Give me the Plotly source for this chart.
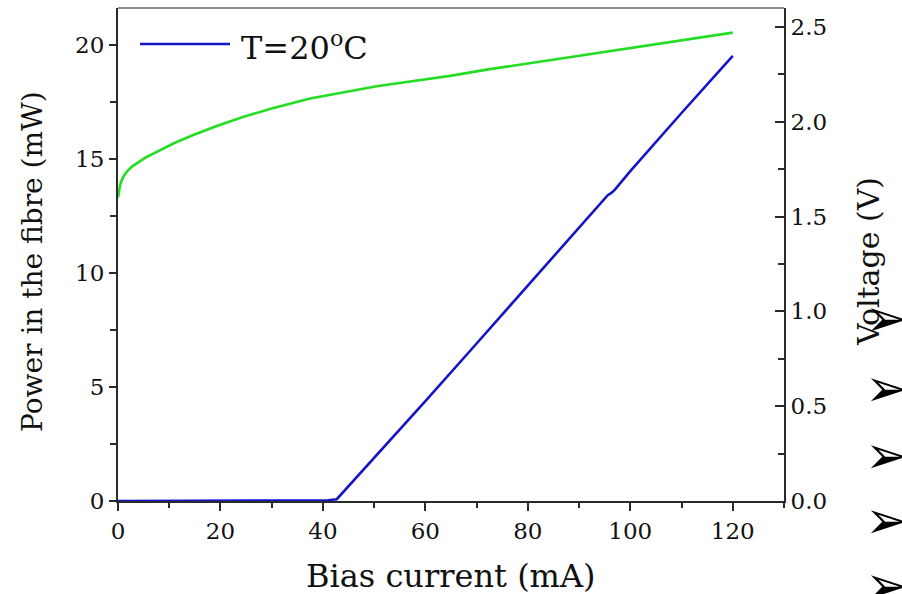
import plotly.graph_objects as go

# Forward voltage vs bias current (right axis)
current_v = [0, 0.15, 0.4, 0.7, 1.0, 1.5, 2.0, 2.8, 3.6, 4.5, 5.5, 6.8, 8.2, 11, 14.7, 19, 24.5, 30, 37.5, 44,
             50.5, 57, 64.8, 72, 82.3, 92, 101.9, 111, 120]
voltage = [1.60, 1.635, 1.665, 1.69, 1.709, 1.728, 1.745, 1.765, 1.78, 1.797, 1.813, 1.831, 1.85, 1.888, 1.93,
           1.975, 2.026, 2.07, 2.123, 2.157, 2.187, 2.212, 2.242, 2.275, 2.317, 2.356, 2.396, 2.432, 2.47]

# Optical power in the fibre vs bias current (left axis)
current_p = [0, 20, 38, 41, 42.7, 50, 60, 70, 80, 90, 95.6, 96.3, 97.0, 100, 110, 120]
power = [0, 0, 0, 0.03, 0.08, 1.88, 4.38, 6.9, 9.43, 11.96, 13.40, 13.50, 13.64, 14.45, 17.0, 19.5]

x_ticks = [0, 20, 40, 60, 80, 100, 120]
p_ticks = [0, 5, 10, 15, 20]
v_ticks = [0.0, 0.5, 1.0, 1.5, 2.0, 2.5]

SERIF = "DejaVu Serif"
AX = "#2a2a2a"
BLUE = "#1414c8"
TICK = dict(size=23, family=SERIF, color="#111")

fig = go.Figure()
fig.add_trace(go.Scatter(x=current_v, y=voltage, yaxis="y2", mode="lines",
                         line=dict(color="#22dd22", width=2.6),
                         showlegend=False, name="Voltage"))
fig.add_trace(go.Scatter(x=current_p, y=power, mode="lines",
                         line=dict(color=BLUE, width=2.6),
                         showlegend=False, name="T=20<sup>o</sup>C"))

fig.update_layout(
    width=902, height=594,
    margin=dict(l=118, r=118, t=8, b=93),
    paper_bgcolor="white", plot_bgcolor="white",
    font=dict(family=SERIF, color="#111", size=23),
    xaxis=dict(range=[0, 130], tickvals=x_ticks, showgrid=False, zeroline=False,
               showline=True, linecolor=AX, linewidth=2,
               ticks="outside", ticklen=8, tickwidth=2, tickcolor=AX,
               minor=dict(dtick=10, ticks="outside", ticklen=5, tickwidth=2, tickcolor=AX),
               tickfont=TICK),
    yaxis=dict(range=[0, 21.6], tickvals=p_ticks, showgrid=False, zeroline=False,
               showline=True, linecolor=AX, linewidth=2,
               ticks="outside", ticklen=7, tickwidth=2, tickcolor=AX,
               minor=dict(dtick=2.5, ticks="outside", ticklen=6, tickwidth=2, tickcolor=AX),
               tickfont=TICK),
    yaxis2=dict(range=[0, 2.6], tickvals=v_ticks, tickformat=".1f", overlaying="y", side="right",
                showgrid=False, zeroline=False,
                showline=True, linecolor=AX, linewidth=2,
                ticks="inside", ticklen=9, tickwidth=2, tickcolor=AX,
                minor=dict(dtick=0.25, ticks="inside", ticklen=6, tickwidth=2, tickcolor=AX),
                tickfont=TICK),
    shapes=[
        # top frame
        dict(type="line", xref="paper", yref="paper", x0=0, x1=1, y0=1, y1=1,
             line=dict(color="#8a8a8a", width=2)),
        # legend key line
        dict(type="line", xref="paper", yref="paper",
             x0=(140 - 118) / 666, x1=(230 - 118) / 666,
             y0=(501 - 44) / 493, y1=(501 - 44) / 493,
             line=dict(color=BLUE, width=2.6)),
    ],
)

annotations = [
    dict(text="T=20<sup>o</sup>C", xref="paper", yref="paper", x=(239 - 118) / 666, y=(501 - 46) / 493,
         xanchor="left", yanchor="middle", showarrow=False, font=dict(size=32, family=SERIF, color="#111")),
    dict(text="Bias current (mA)", xref="paper", yref="paper", x=(451 - 118) / 666, y=(501 - 576) / 493,
         xanchor="center", yanchor="middle", showarrow=False, font=dict(size=32, family=SERIF)),
    dict(text="Power in the fibre (mW)", xref="paper", yref="paper", x=(32 - 118) / 666, y=(501 - 262) / 493,
         xanchor="center", yanchor="middle", textangle=-90, showarrow=False,
         font=dict(size=28, family=SERIF)),
    dict(text="Voltage (V)", xref="paper", yref="paper", x=(868 - 118) / 666, y=(501 - 262) / 493,
         xanchor="center", yanchor="middle", textangle=-90, showarrow=False,
         font=dict(size=30, family=SERIF)),
]
for yp in [318, 388, 455, 520, 585]:
    annotations.append(dict(text="➢", xref="paper", yref="paper",
                            x=(887 - 118) / 666, y=(501 - yp) / 493,
                            xanchor="center", yanchor="middle", showarrow=False,
                            font=dict(size=52, family="DejaVu Sans", color="#000")))
fig.update_layout(annotations=annotations)

fig.write_html("out.html")
